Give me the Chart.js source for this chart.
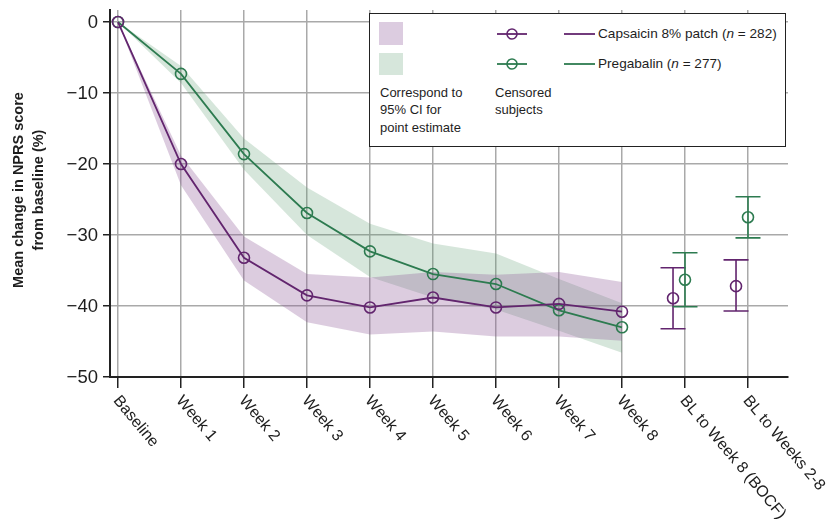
<!DOCTYPE html>
<html>
<head>
<meta charset="utf-8">
<script src="https://cdn.jsdelivr.net/npm/chart.js@4.4.0/dist/chart.umd.min.js"></script>
<style>
html,body{margin:0;padding:0;background:#fff;}
#wrap{position:relative;width:839px;height:519px;font-family:"Liberation Sans",Arial,sans-serif;color:#1e1e1e;overflow:hidden;}
#c{position:absolute;left:0;top:0;}
#legendBox{position:absolute;left:369px;top:13px;width:417px;height:134px;box-sizing:border-box;border:1.5px solid #222;background:#fff;}
#legendSvg{position:absolute;left:0;top:0;pointer-events:none;}
.lt{position:absolute;white-space:nowrap;}
.lt i{font-style:italic;}
</style>
</head>
<body>
<div id="wrap">
  <canvas id="c" width="839" height="519"></canvas>
  <div id="legendBox"></div>
  <svg id="legendSvg" width="839" height="519">
    <rect x="379" y="22" width="24" height="23" fill="rgb(220,204,224)"/>
    <rect x="379" y="53" width="24" height="22" fill="rgb(214,230,219)"/>
    <line x1="497" y1="34" x2="527" y2="34" stroke="#62256e" stroke-width="1.8"/>
    <circle cx="512" cy="34" r="5" fill="none" stroke="#62256e" stroke-width="1.6"/>
    <line x1="497" y1="64" x2="527" y2="64" stroke="#2d7b50" stroke-width="1.8"/>
    <circle cx="512" cy="64" r="5" fill="none" stroke="#2d7b50" stroke-width="1.6"/>
    <line x1="564" y1="34" x2="595" y2="34" stroke="#62256e" stroke-width="1.8"/>
    <line x1="564" y1="64" x2="595" y2="64" stroke="#2d7b50" stroke-width="1.8"/>
  </svg>
  <div class="lt" style="left:598px;top:26px;font-size:13.6px;line-height:16px;">Capsaicin 8% patch (<i>n</i> = 282)</div>
  <div class="lt" style="left:598px;top:56px;font-size:13.6px;line-height:16px;">Pregabalin (<i>n</i> = 277)</div>
  <div class="lt" style="left:380px;top:84px;font-size:13px;line-height:17.3px;">Correspond to<br>95% CI for<br>point estimate</div>
  <div class="lt" style="left:495px;top:84px;font-size:13px;line-height:17.3px;">Censored<br>subjects</div>
</div>
<script>
// ---- data ----
const categories = ['Baseline','Week 1','Week 2','Week 3','Week 4','Week 5','Week 6','Week 7','Week 8','BL to Week 8 (BOCF)','BL to Weeks 2-8'];
const yTickValues = [0, -10, -20, -30, -40, -50];

const capsaicinMean    = [0, -20.0, -33.2, -38.5, -40.2, -38.8, -40.2, -39.7, -40.8];
const capsaicinCIUpper = [0, -18.8, -30.2, -35.5, -36.0, -35.2, -35.6, -35.2, -36.6];
const capsaicinCILower = [0, -23.0, -36.4, -42.3, -44.0, -43.6, -44.3, -44.3, -44.9];

const pregabalinMean    = [0, -7.3, -18.6, -26.9, -32.3, -35.5, -36.9, -40.6, -43.0];
const pregabalinCIUpper = [0, -6.2, -16.4, -23.3, -28.4, -31.2, -32.6, -36.2, -39.6];
const pregabalinCILower = [0, -8.6, -20.8, -30.0, -35.9, -38.8, -40.5, -43.5, -46.6];

const capsaicinSummaryMean  = [-38.9, -37.2];
const capsaicinSummaryUpper = [-34.6, -33.5];
const capsaicinSummaryLower = [-43.2, -40.7];

const pregabalinSummaryMean  = [-36.3, -27.5];
const pregabalinSummaryUpper = [-32.5, -24.6];
const pregabalinSummaryLower = [-40.1, -30.4];

// ---- styling ----
const PURPLE = '#62256e';
const GREEN = '#2d7b50';
const PURPLE_BAND = 'rgba(140,85,150,0.30)';
const GREEN_BAND = 'rgba(90,155,110,0.25)';
const SUMMARY_START = 9;          // index of first summary category
const PURPLE_SHIFT = -0.19;       // horizontal dodge for capsaicin summary markers
const FONT = '"Liberation Sans", Arial, sans-serif';

const pts = (arr, start = 0, shift = 0) => arr.map((v, i) => ({ x: start + i + shift, y: v }));
const xTickValues = categories.map((_, i) => i);

const pointStyle = color => ({
  pointRadius: 5.5, pointHoverRadius: 5.5, pointStyle: 'circle',
  pointBackgroundColor: 'rgba(0,0,0,0)', pointBorderColor: color, pointBorderWidth: 1.6
});

const datasets = [
  { data: pts(capsaicinCIUpper), fill: '+1', backgroundColor: PURPLE_BAND, borderWidth: 0, pointRadius: 0, order: 5 },
  { data: pts(capsaicinCILower), fill: false, borderWidth: 0, pointRadius: 0, order: 5 },
  { data: pts(pregabalinCIUpper), fill: '+1', backgroundColor: GREEN_BAND, borderWidth: 0, pointRadius: 0, order: 6 },
  { data: pts(pregabalinCILower), fill: false, borderWidth: 0, pointRadius: 0, order: 6 },
  Object.assign({ data: pts(pregabalinMean), borderColor: GREEN, borderWidth: 1.8, fill: false, order: 2 }, pointStyle(GREEN)),
  Object.assign({ data: pts(capsaicinMean), borderColor: PURPLE, borderWidth: 1.8, fill: false, order: 1 }, pointStyle(PURPLE)),
  Object.assign({ data: pts(capsaicinSummaryMean, SUMMARY_START, PURPLE_SHIFT), showLine: false, borderColor: PURPLE, order: 1 }, pointStyle(PURPLE)),
  Object.assign({ data: pts(pregabalinSummaryMean, SUMMARY_START), showLine: false, borderColor: GREEN, order: 1 }, pointStyle(GREEN))
];

const decorPlugin = {
  id: 'decor',
  afterDatasetsDraw(chart) {
    const { ctx, scales: { x, y } } = chart;
    const bars = (lows, highs, shift, color) => {
      ctx.save();
      ctx.strokeStyle = color; ctx.lineWidth = 1.6;
      lows.forEach((lo, i) => {
        const px = x.getPixelForValue(SUMMARY_START + i + shift);
        const pl = y.getPixelForValue(lo), ph = y.getPixelForValue(highs[i]);
        ctx.beginPath();
        ctx.moveTo(px, ph); ctx.lineTo(px, pl);
        ctx.moveTo(px - 12.5, ph); ctx.lineTo(px + 12.5, ph);
        ctx.moveTo(px - 12.5, pl); ctx.lineTo(px + 12.5, pl);
        ctx.stroke();
      });
      ctx.restore();
    };
    bars(capsaicinSummaryLower, capsaicinSummaryUpper, PURPLE_SHIFT, PURPLE);
    bars(pregabalinSummaryLower, pregabalinSummaryUpper, 0, GREEN);
  },
  afterDraw(chart) {
    const { ctx, scales: { x, y } } = chart;
    ctx.save();
    ctx.fillStyle = '#1e1e1e';
    // x labels
    ctx.font = '16px ' + FONT;
    ctx.textAlign = 'left'; ctx.textBaseline = 'middle';
    categories.forEach((lab, i) => {
      const px = x.getPixelForValue(i);
      ctx.save();
      ctx.translate(px - 2, 398);
      ctx.rotate(50 * Math.PI / 180);
      ctx.fillText(lab, 0, 0);
      ctx.restore();
    });
    // y labels
    ctx.font = '18.5px ' + FONT;
    ctx.textAlign = 'right'; ctx.textBaseline = 'middle';
    yTickValues.forEach(v => {
      ctx.fillText(v === 0 ? '0' : '\u2212' + Math.abs(v), 98, y.getPixelForValue(v) + 1);
    });
    // y title
    ctx.font = 'bold 14.5px ' + FONT;
    ctx.textAlign = 'center'; ctx.textBaseline = 'alphabetic';
    ctx.translate(0, 190);
    ctx.rotate(-Math.PI / 2);
    ctx.fillText('Mean change in NPRS score', 0, 23);
    ctx.fillText('from baseline (%)', 0, 43);
    ctx.restore();
  }
};

new Chart(document.getElementById('c'), {
  type: 'line',
  data: { datasets },
  plugins: [decorPlugin],
  options: {
    responsive: false,
    devicePixelRatio: 1,
    animation: false,
    layout: { padding: { top: 10, right: 51, left: 0, bottom: 0 } },
    plugins: { legend: { display: false }, tooltip: { enabled: false } },
    elements: { line: { tension: 0 } },
    scales: {
      x: {
        type: 'linear', min: -0.127, max: 10.635,
        afterBuildTicks: s => { s.ticks = xTickValues.map(v => ({ value: v })); },
        afterFit: s => { s.height = 142; },
        ticks: { display: false },
        grid: { color: '#a9a9a9', lineWidth: 1.5, tickLength: 11, tickColor: '#222', tickWidth: 1.5 },
        border: { color: '#222', width: 2 }
      },
      y: {
        type: 'linear', min: -50, max: 1.7,
        afterBuildTicks: s => { s.ticks = yTickValues.map(v => ({ value: v })); },
        afterFit: s => { s.width = 110; },
        ticks: { display: false },
        grid: { color: '#a9a9a9', lineWidth: 1.5, tickLength: 7, tickColor: '#222', tickWidth: 1.5 },
        border: { color: '#222', width: 2 }
      }
    }
  }
});
</script>
</body>
</html>
